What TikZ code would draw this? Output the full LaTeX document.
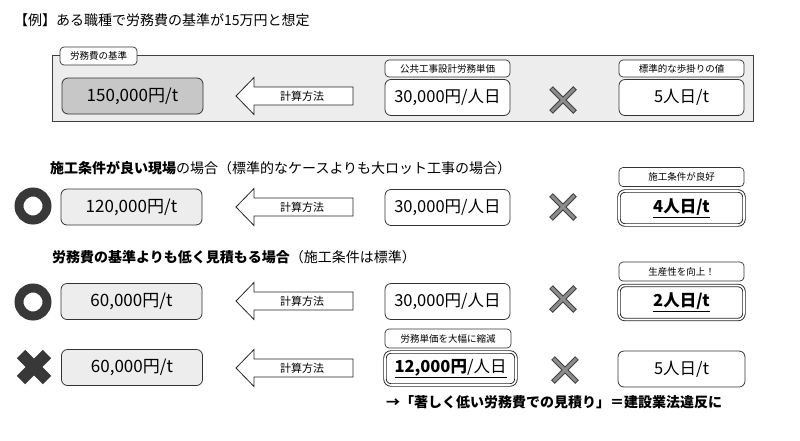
\documentclass[tikz,border=0pt]{standalone}
\usepackage{fontspec}
\setmainfont{Noto Sans CJK JP}
\newcommand{\calcarrow}[2]{%
  \draw[arrowshape] (236,#2) -- (254,#2-18.5) -- (254,#2-9) -- (353,#2-9) -- (353,#2+9) -- (254,#2+9) -- (254,#2+18.5) -- cycle;
  \node[arrowtext] (#1) at (302,#2) {計算方法};}
\newcommand{\timesmark}[2]{%
  \draw[line width=5pt, draw=black!75] (#1-12,#2-12) -- (#1+12,#2+12) (#1-12,#2+12) -- (#1+12,#2-12);
  \draw[line width=3pt, draw=black!45] (#1-11.3,#2-11.3) -- (#1+11.3,#2+11.3) (#1-11.3,#2+11.3) -- (#1+11.3,#2-11.3);}
\newcommand{\okmark}[2]{%
  \draw[line width=9pt, draw=black!78] (#1,#2) circle (14);}
\newcommand{\ngmark}[2]{%
  \draw[line width=12pt, draw=black!78] (#1-13,#2-13) -- (#1+13,#2+13) (#1-13,#2+13) -- (#1+13,#2-13);}
\begin{document}
\begin{tikzpicture}[x=1pt,y=-1pt,
  valbox/.style={draw=black!80, line width=0.8pt, rounded corners=6pt, minimum width=141pt, minimum height=36pt, inner sep=0pt, font=\fontsize{17}{20}\selectfont},
  basebox/.style={valbox, fill=black!22},
  resbox/.style={valbox, fill=black!7},
  unitbox/.style={draw=black!80, line width=0.8pt, rounded corners=6pt, fill=white, minimum width=125pt, minimum height=36pt, inner sep=0pt, font=\fontsize{16.5}{20}\selectfont},
  dbox/.style={draw=black!85, double=white, double distance=1.6pt, line width=0.9pt, rounded corners=6pt, fill=white, minimum width=125pt, minimum height=34pt, inner sep=0pt, font=\fontsize{16.5}{20}\selectfont},
  tabbox/.style={draw=black!80, line width=0.7pt, rounded corners=4pt, fill=white, minimum width=125pt, minimum height=17pt, inner sep=0pt, font=\fontsize{9.5}{11}\selectfont},
  panel/.style={draw=black!75, line width=0.8pt, fill=black!7, minimum width=701pt, minimum height=66pt, inner sep=0pt},
  heading/.style={anchor=west, inner sep=0pt, font=\fontsize{14}{16}\selectfont},
  arrowshape/.style={draw=black!85, line width=0.8pt, fill=white},
  arrowtext/.style={font=\fontsize{11}{13}\selectfont, inner sep=0pt}
]
\useasboundingbox (0,0) rectangle (800,440);

% title
\node[heading] (title) at (14,20) {【例】ある職種で労務費の基準が15万円と想定};

% top panel
\node[panel] (panel) at (402.5,88) {};
\node[tabbox, minimum width=77pt, minimum height=18pt] (ptab) at (98.5,56) {労務費の基準};
\node[basebox] (b1) at (132.5,96) {150,000円/t};
\calcarrow{a1}{96}
\node[tabbox] (t1m) at (447.5,68.5) {公共工事設計労務単価};
\node[unitbox] (m1) at (447.5,97.5) {30,000円/人日};
\timesmark{563}{100}
\node[tabbox] (t1r) at (681.5,68.5) {標準的な歩掛りの値};
\node[unitbox] (r1) at (681.5,97.5) {5人日/t};

% case 2
\node[heading] (h2) at (50,168) {\bfseries 施工条件が良い現場\mdseries の場合（標準的なケースよりも大ロット工事の場合）};
\okmark{33}{206}
\node[resbox] (b2) at (131.5,207) {120,000円/t};
\calcarrow{a2}{207}
\node[unitbox] (m2) at (447.5,207.5) {30,000円/人日};
\timesmark{563}{207}
\node[tabbox, minimum height=19pt] (t2r) at (681.5,177) {施工条件が良好};
\node[dbox] (r2) at (681.5,208) {\underline{\bfseries 4人日/t}};

% case 3
\node[heading] (h3) at (52,257) {\bfseries 労務費の基準よりも低く見積もる場合\mdseries （施工条件は標準）};
\okmark{33}{302}
\node[resbox] (b3) at (131.5,301.5) {60,000円/t};
\calcarrow{a3}{301}
\node[unitbox] (m3) at (447.5,301.5) {30,000円/人日};
\timesmark{563}{299}
\node[tabbox, minimum height=19pt] (t3r) at (681.5,271.5) {生産性を向上！};
\node[dbox] (r3) at (681.5,302.5) {\underline{\bfseries 2人日/t}};

% case 4
\ngmark{34}{367}
\node[resbox] (b4) at (132,367.5) {60,000円/t};
\calcarrow{a4}{368}
\node[tabbox, minimum width=126pt, minimum height=19pt] (t4m) at (448,338.5) {労務単価を大幅に縮減};
\node[dbox, minimum width=131pt, minimum height=33pt] (m4) at (450.5,368.5) {\underline{\textbf{12,000円}/人日}};
\timesmark{565}{370}
\node[unitbox, minimum width=127pt] (r4) at (681.5,369) {5人日/t};
\node[heading, font=\fontsize{14}{16}\selectfont\bfseries] (note) at (386,402) {→「著しく低い労務費での見積り」＝建設業法違反に};
\end{tikzpicture}
\end{document}
